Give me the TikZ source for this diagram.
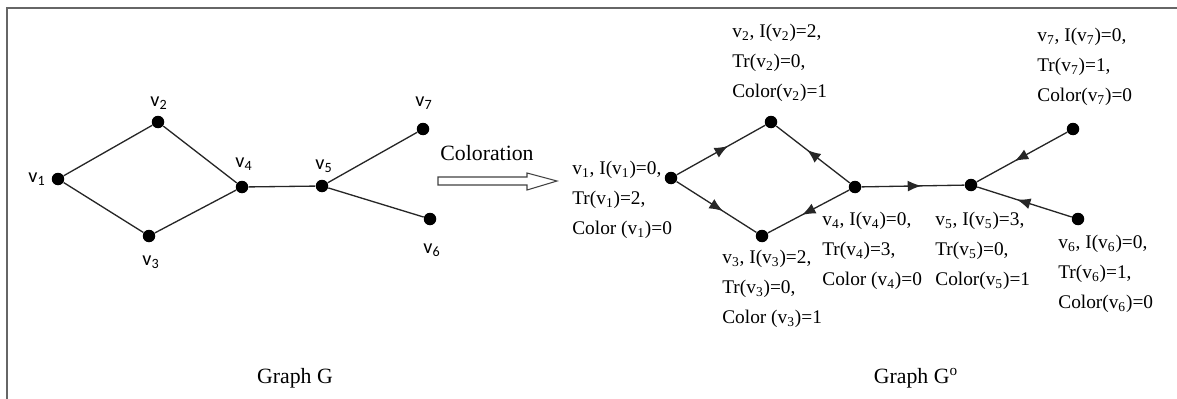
\documentclass[tikz,border=0pt]{standalone}
\usepackage{xcolor}
\usepackage{fontspec}
\setmainfont{Liberation Serif}
\newfontfamily\lblfont{Carlito}
\usetikzlibrary{arrows.meta,decorations.markings}

\newcommand{\vx}[1]{v\textsubscript{#1}}

\tikzset{
  vertex/.style={circle,fill=black,inner sep=0pt,minimum size=0.25cm},
  link/.style={line width=0.75pt,draw=black!85},
  midarrow/.style={postaction={decorate},decoration={markings,
    mark=at position 0.58 with {\arrow{Latex[length=0.27cm,width=0.22cm]}}}},
  vlabel/.style={font=\lblfont\fontsize{11.5}{13}\selectfont,inner sep=0pt},
  info/.style={font=\fontsize{11}{17}\selectfont,align=left,anchor=west,inner sep=0pt},
  caption/.style={font=\fontsize{12.4}{14}\selectfont,inner sep=0pt}
}

\begin{document}
\begin{tikzpicture}[x=0.02cm,y=-0.02cm]
\useasboundingbox (0,0) rectangle (1177,399);
% frame
\draw[line width=1.1pt,black!60] (7,399) -- (7,8) -- (1177,8);

% graph G
\node[vertex] (g1) at (58,179) {};
\node[vertex] (g2) at (158,122) {};
\node[vertex] (g3) at (149,236) {};
\node[vertex] (g4) at (242,187) {};
\node[vertex] (g5) at (322,186) {};
\node[vertex] (g6) at (430,219) {};
\node[vertex] (g7) at (423,129) {};
\node[vlabel] (lg1) at (37,179) {\vx{1}};
\node[vlabel] (lg2) at (159,103) {\vx{2}};
\node[vlabel] (lg3) at (151,262) {\vx{3}};
\node[vlabel] (lg4) at (244,164) {\vx{4}};
\node[vlabel] (lg5) at (324,166) {\vx{5}};
\node[vlabel] (lg6) at (432,250) {\vx{6}};
\node[vlabel] (lg7) at (424,103) {\vx{7}};
\draw[link] (g1) -- (g2) -- (g4) -- (g3) -- (g1);
\draw[link] (g4) -- (g5) -- (g7);
\draw[link] (g5) -- (g6);
\node[caption] (capG) at (295,378) {Graph G};

% coloration arrow
\node[caption] (col) at (487,153) {Coloration};
\draw[line width=0.6pt,black!75] (438,177) -- (527,177) -- (527,173) -- (557,181)
  -- (527,190) -- (527,185) -- (438,185) -- cycle;

% graph G^o
\node[vertex] (c1) at (671,178) {};
\node[vertex] (c2) at (771,122) {};
\node[vertex] (c3) at (762,236) {};
\node[vertex] (c4) at (855,187) {};
\node[vertex] (c5) at (971,185) {};
\node[vertex] (c6) at (1078,219) {};
\node[vertex] (c7) at (1073,129) {};
\draw[link,midarrow] (c1) -- (c2);
\draw[link,midarrow] (c1) -- (c3);
\draw[link,midarrow] (c4) -- (c2);
\draw[link,midarrow] (c4) -- (c3);
\draw[link,midarrow] (c4) -- (c5);
\draw[link,midarrow] (c7) -- (c5);
\draw[link,midarrow] (c6) -- (c5);

\node[info] (t1) at (572,200) {\vx{1}, I(\vx{1})=0,\\Tr(\vx{1})=2,\\Color (\vx{1})=0};
\node[info] (t2) at (732,63) {\vx{2}, I(\vx{2})=2,\\Tr(\vx{2})=0,\\Color(\vx{2})=1};
\node[info] (t3) at (722,289) {\vx{3}, I(\vx{3})=2,\\Tr(\vx{3})=0,\\Color (\vx{3})=1};
\node[info] (t4) at (822,251) {\vx{4}, I(\vx{4})=0,\\Tr(\vx{4})=3,\\Color (\vx{4})=0};
\node[info] (t5) at (935,251) {\vx{5}, I(\vx{5})=3,\\Tr(\vx{5})=0,\\Color(\vx{5})=1};
\node[info] (t6) at (1058,274) {\vx{6}, I(\vx{6})=0,\\Tr(\vx{6})=1,\\Color(\vx{6})=0};
\node[info] (t7) at (1037,67) {\vx{7}, I(\vx{7})=0,\\Tr(\vx{7})=1,\\Color(\vx{7})=0};
\node[caption] (capGo) at (916,378) {Graph G\textsuperscript{o}};
\end{tikzpicture}
\end{document}
